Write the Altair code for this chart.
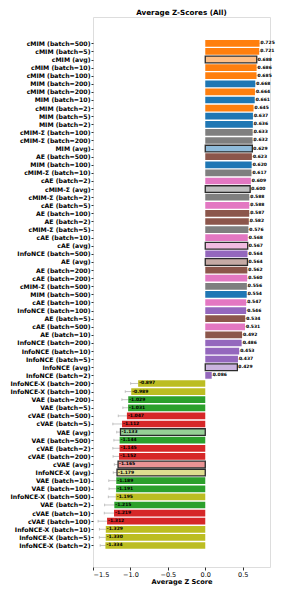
import altair as alt
import pandas as pd
import json

labels = [
    "cMIM (batch=500)", "cMIM (batch=5)", "cMIM (avg)", "cMIM (batch=10)", "cMIM (batch=100)",
    "MIM (batch=200)", "cMIM (batch=200)", "MIM (batch=10)", "cMIM (batch=2)", "MIM (batch=5)",
    "MIM (batch=2)", "cMIM-Σ (batch=100)", "cMIM-Σ (batch=200)", "MIM (avg)", "AE (batch=500)",
    "MIM (batch=100)", "cMIM-Σ (batch=10)", "cAE (batch=2)", "cMIM-Σ (avg)", "cMIM-Σ (batch=2)",
    "cAE (batch=5)", "AE (batch=100)", "AE (batch=2)", "cMIM-Σ (batch=5)", "cAE (batch=10)",
    "cAE (avg)", "InfoNCE (batch=500)", "AE (avg)", "AE (batch=200)", "cAE (batch=200)",
    "cMIM-Σ (batch=500)", "MIM (batch=500)", "cAE (batch=100)", "InfoNCE (batch=100)", "AE (batch=5)",
    "cAE (batch=500)", "AE (batch=10)", "InfoNCE (batch=200)", "InfoNCE (batch=10)", "InfoNCE (batch=5)",
    "InfoNCE (avg)", "InfoNCE (batch=2)", "InfoNCE-X (batch=200)", "InfoNCE-X (batch=100)", "VAE (batch=200)",
    "VAE (batch=5)", "cVAE (batch=500)", "cVAE (batch=5)", "VAE (avg)", "VAE (batch=500)",
    "cVAE (batch=2)", "cVAE (batch=200)", "cVAE (avg)", "InfoNCE-X (avg)", "VAE (batch=10)",
    "VAE (batch=100)", "InfoNCE-X (batch=500)", "VAE (batch=2)", "cVAE (batch=10)", "cVAE (batch=100)",
    "InfoNCE-X (batch=10)", "InfoNCE-X (batch=5)", "InfoNCE-X (batch=2)",
]

values = [
    0.725, 0.721, 0.688, 0.686, 0.685,
    0.668, 0.664, 0.661, 0.645, 0.637,
    0.636, 0.633, 0.632, 0.629, 0.623,
    0.620, 0.617, 0.609, 0.600, 0.588,
    0.588, 0.587, 0.582, 0.576, 0.568,
    0.567, 0.564, 0.564, 0.562, 0.560,
    0.556, 0.554, 0.547, 0.546, 0.534,
    0.531, 0.492, 0.486, 0.453, 0.437,
    0.429, 0.086, -0.897, -0.989, -1.029,
    -1.031, -1.047, -1.112, -1.133, -1.144,
    -1.145, -1.152, -1.165, -1.179, -1.189,
    -1.191, -1.195, -1.215, -1.219, -1.312,
    -1.329, -1.330, -1.334,
]

stds = [
    0.030, 0.030, 0.020, 0.030, 0.030,
    0.030, 0.030, 0.030, 0.030, 0.030,
    0.030, 0.030, 0.030, 0.020, 0.030,
    0.030, 0.030, 0.030, 0.020, 0.030,
    0.030, 0.030, 0.030, 0.030, 0.030,
    0.020, 0.030, 0.020, 0.030, 0.030,
    0.030, 0.030, 0.040, 0.040, 0.040,
    0.040, 0.050, 0.050, 0.050, 0.050,
    0.030, 0.040, 0.100, 0.080, 0.085,
    0.070, 0.115, 0.123, 0.050, 0.077,
    0.090, 0.080, 0.050, 0.050, 0.100,
    0.095, 0.100, 0.130, 0.130, 0.120,
    0.085, 0.085, 0.070,
]

base_colors = {
    "cMIM": "#ff7f0e", "MIM": "#1f77b4", "cMIM-Σ": "#7f7f7f", "AE": "#8c564b",
    "cAE": "#e377c2", "InfoNCE": "#9467bd", "InfoNCE-X": "#bcbd22",
    "VAE": "#2ca02c", "cVAE": "#d62728",
}


def lighten(hex_color, a=0.5):
    h = hex_color.lstrip("#")
    rgb = [int(h[i:i + 2], 16) for i in (0, 2, 4)]
    rgb = [round(c * a + 255 * (1 - a)) for c in rgb]
    return "#" + "".join(f"{c:02x}" for c in rgb)


rows = []
for i, (lab, v, s) in enumerate(zip(labels, values, stds)):
    method = lab.split(" (")[0]
    is_avg = "(avg)" in lab
    col = base_colors[method]
    rows.append({
        "idx": i,
        "y1": i - 0.16,
        "y2": i + 0.16,
        "label": lab,
        "value": v,
        "zero": 0.0,
        "lo": v - s,
        "hi": v + s,
        "fill": lighten(col) if is_avg else col,
        "stroke": "#2b2b2b" if is_avg else "#ffffff",
        "sw": 1.3 if is_avg else 0.0,
        "txt": f"{v:.3f}",
    })
df = pd.DataFrame(rows)

font = "DejaVu Sans"
xscale = alt.Scale(domain=[-1.5, 0.865], nice=False, zero=False)
yscale = alt.Scale(domain=[-2.63, 64.04], nice=False, zero=False, reverse=True)

label_expr = json.dumps(labels, ensure_ascii=False) + "[datum.value]"

y_axis = alt.Axis(title=None, values=list(range(len(labels))), labelExpr=label_expr,
                  labelFont=font, labelFontWeight="bold", labelFontSize=6.2,
                  labelColor="#000000", tickSize=2, tickColor="#333333", labelPadding=1,
                  domain=False, grid=False, labelLimit=200, labelOverlap=False,
                  labelBaseline="middle")
y_enc = alt.Y("idx:Q", scale=yscale, axis=y_axis)
x_axis = alt.Axis(title="Average Z Score", values=[-1.5, -1.0, -0.5, 0.0, 0.5], format=".1f",
                  labelFont=font, labelFontSize=6.5, labelColor="#000000", tickSize=3,
                  tickColor="#333333", labelPadding=1, grid=False, domain=False,
                  titleFont=font, titleFontWeight="bold", titleFontSize=6.6, titlePadding=1,
                  titleColor="#000000")
x_enc = alt.X("value:Q", scale=xscale, axis=x_axis)

base = alt.Chart(df)

err = base.mark_rule(color="#b5b5b5", strokeWidth=0.8).encode(
    y=y_enc, x=alt.X("lo:Q", scale=xscale, axis=x_axis), x2="hi:Q"
)
cap_lo = base.mark_rule(color="#b5b5b5", strokeWidth=0.8).encode(
    x=alt.X("lo:Q", scale=xscale, axis=x_axis), y=alt.Y("y1:Q", scale=yscale, axis=y_axis), y2="y2:Q"
)
cap_hi = base.mark_rule(color="#b5b5b5", strokeWidth=0.8).encode(
    x=alt.X("hi:Q", scale=xscale, axis=x_axis), y=alt.Y("y1:Q", scale=yscale, axis=y_axis), y2="y2:Q"
)
bars = base.mark_bar(orient="horizontal", size=6.7).encode(
    y=y_enc,
    x=x_enc,
    x2="zero:Q",
    fill=alt.Fill("fill:N", scale=None),
    stroke=alt.Stroke("stroke:N", scale=None),
    strokeWidth=alt.StrokeWidth("sw:Q", scale=None),
)
text = base.mark_text(align="left", baseline="middle", dx=1, font=font, fontWeight="bold",
                      fontSize=4.5, color="#000000").encode(
    y=y_enc, x=x_enc, text="txt:N"
)

chart = alt.layer(err, cap_lo, cap_hi, bars, text).properties(
    width=177, height=550,
    autosize=alt.AutoSizeParams(type="none"),
    padding={"left": 85, "top": 9, "right": 7, "bottom": 19},
    title=alt.TitleParams("Average Z-Scores (All)", font=font, fontWeight="bold", fontSize=7.2,
                          color="#000000", anchor="middle", offset=1),
).configure_view(stroke="#8c8c8c", strokeWidth=1).configure(background="#ffffff")

chart.save("out.html", embed_options={"renderer": "svg", "actions": False})
